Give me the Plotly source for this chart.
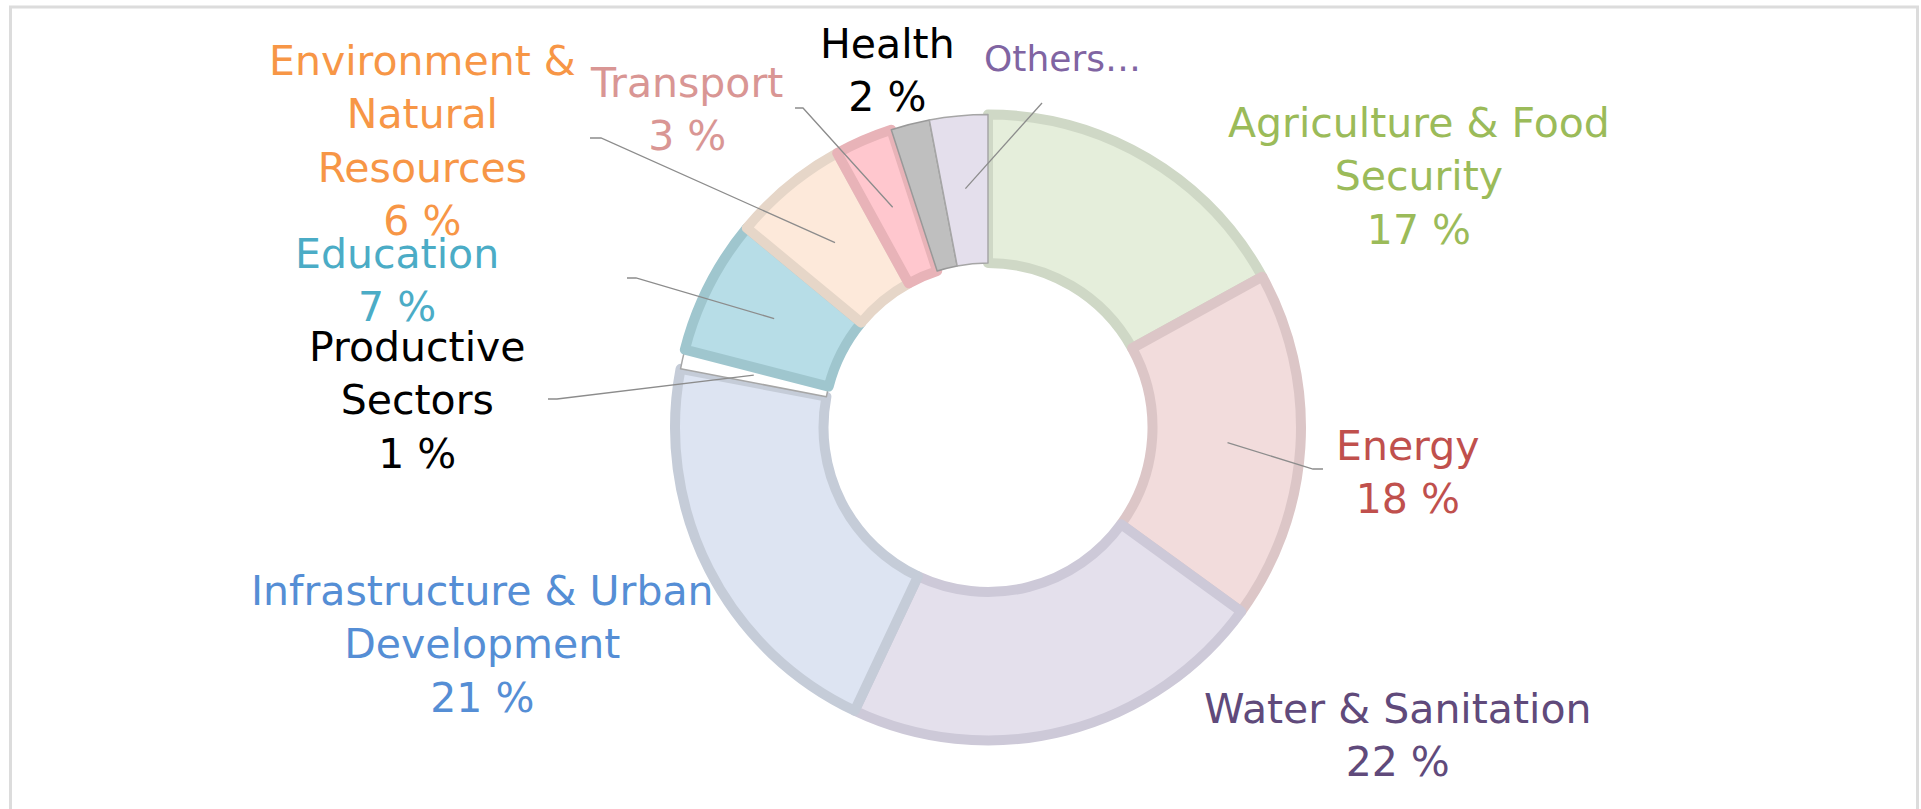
import math
import plotly.graph_objects as go

# ---------------- data ----------------
categories = [
    "Agriculture & Food Security", "Energy", "Water & Sanitation",
    "Infrastructure & Urban Development", "Productive Sectors", "Education",
    "Environment & Natural Resources", "Transport", "Health", "Others…",
]
shares = [17, 18, 22, 21, 1, 7, 6, 3, 2, 3]
label_text = [
    "Agriculture & Food<br>Security<br>17 %",
    "Energy<br>18 %",
    "Water & Sanitation<br>22 %",
    "Infrastructure & Urban<br>Development<br>21 %",
    "Productive<br>Sectors<br>1 %",
    "Education<br>7 %",
    "Environment &<br>Natural<br>Resources<br>6 %",
    "Transport<br>3 %",
    "Health<br>2 %",
    "Others…",
]

# ---------------- styles ----------------
fill_colors = ["#e5eedb", "#f2dcdc", "#e4e0ec", "#dde4f2", "#ffffff",
               "#b7dde7", "#fde9da", "#ffc7ce", "#bfbfbf", "#e4dfec"]
edge_colors = ["#cfd8c6", "#dcc6c7", "#cdc9d8", "#c5ccd8", "#a6a6a6",
               "#9fc6ce", "#e6d6c8", "#e8b3b8", "#999999", "#a6a6a6"]
edge_widths = [10, 10, 10, 10, 1.5, 10, 10, 10, 1.5, 1.5]
text_colors = ["#9bbb59", "#c0504d", "#604a7b", "#558ed5", "#000000",
               "#4bacc6", "#f79646", "#d99694", "#000000", "#8064a2"]
label_pos = [(1419, 176), (1408, 472), (1398, 735), (483, 644), (417, 401),
             (397, 280), (422, 141), (686, 110), (887, 71), (1062, 59)]
label_size = [41, 41, 41, 41, 41, 41, 41, 41, 41, 36]
# leader line outer ends (label side): list of points, or None
leader_ends = [None, [(1323, 469), (1313, 469)], None, None,
               [(548, 399), (557, 399)], [(627, 278), (636, 278)],
               [(590, 138), (601, 138)], [(795, 108), (803, 108)], None,
               [(1042, 103)]]

W, H = 1921, 809
CX, CY = 988, 427.5
R = 313          # pie radius (stroke adds ~5 px outside)
HOLE_PX = 164.5
LEADER_R = 240


def px(x):
    return x / W


def py(y):
    return 1 - y / H


fig = go.Figure()
fig.add_trace(go.Pie(
    labels=categories, values=shares, sort=False, direction="clockwise",
    rotation=0, hole=HOLE_PX / R, textinfo="none",
    marker=dict(colors=fill_colors,
                line=dict(color=edge_colors, width=edge_widths)),
    domain=dict(x=[px(CX - R), px(CX + R)], y=[py(CY + R), py(CY - R)]),
    showlegend=False,
))

shapes = []
# frame
shapes.append(dict(type="rect", xref="paper", yref="paper",
                   x0=px(10.5), x1=px(1917.5), y0=-0.02, y1=py(7),
                   line=dict(color="#dcdcdc", width=3), fillcolor="rgba(0,0,0,0)"))

total = sum(shares)
cum = 0
for i, v in enumerate(shares):
    mid = (cum + v / 2) / total * 2 * math.pi
    cum += v
    ends = leader_ends[i]
    if ends is None:
        continue
    sx = CX + LEADER_R * math.sin(mid)
    sy = CY - LEADER_R * math.cos(mid)
    pts = list(ends) + [(sx, sy)]
    path = "M " + " L ".join(f"{px(a):.5f},{py(b):.5f}" for a, b in pts)
    shapes.append(dict(type="path", xref="paper", yref="paper", path=path,
                       line=dict(color="#8c8c8c", width=1.3)))

annotations = []
for i, t in enumerate(label_text):
    x, y = label_pos[i]
    annotations.append(dict(
        text=t, x=px(x), y=py(y), xref="paper", yref="paper",
        xanchor="center", yanchor="middle", showarrow=False, align="center",
        font=dict(family="DejaVu Sans, sans-serif", size=label_size[i],
                  color=text_colors[i]),
    ))

fig.update_layout(
    width=W, height=H, margin=dict(l=0, r=0, t=0, b=0),
    paper_bgcolor="white", plot_bgcolor="white",
    shapes=shapes, annotations=annotations,
)
fig.write_html(
    "out.html",
    config={"displayModeBar": False},
    post_script="document.body.style.margin='0';document.body.style.overflow='hidden';",
)
